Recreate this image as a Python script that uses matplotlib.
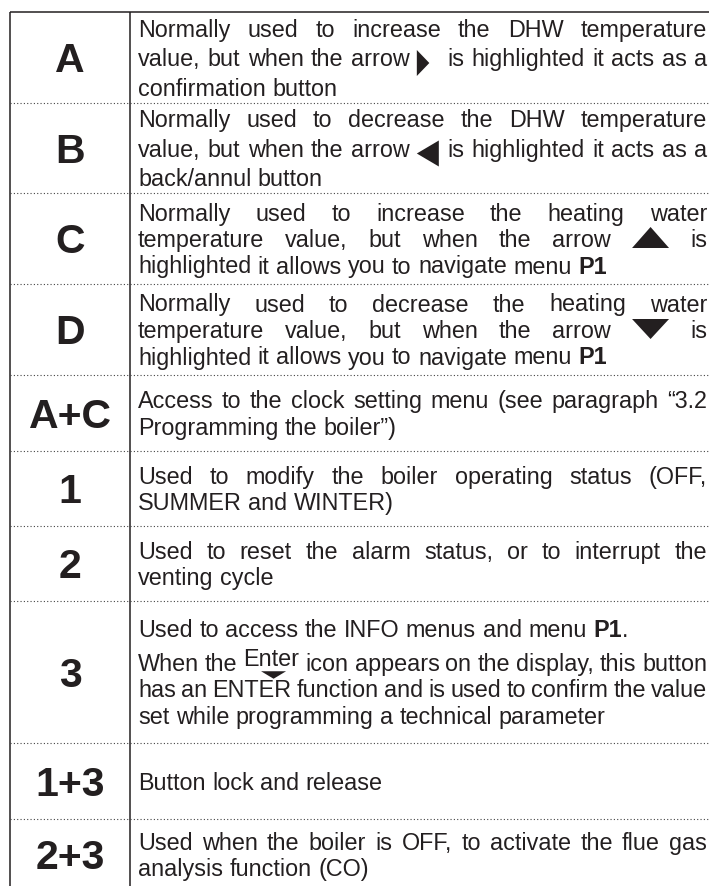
import re
import matplotlib
matplotlib.use('Agg')
import matplotlib.pyplot as plt
from matplotlib.patches import Polygon
from matplotlib.font_manager import FontProperties

plt.rcParams['font.family'] = ['Liberation Sans', 'DejaVu Sans']

# table content
keys = ['A', 'B', 'C', 'D', 'A+C', '1', '2', '3', '1+3', '2+3']
descriptions = [
    [["Normally used to increase the DHW temperature",
      "value, but when the arrow {right} is highlighted it acts as a",
      "confirmation button"]],
    [["Normally used to decrease the DHW temperature",
      "value, but when the arrow {left} is highlighted it acts as a",
      "back/annul button"]],
    [["Normally used to increase the heating water",
      "temperature value, but when the arrow {up} is",
      "highlighted it allows you to navigate menu **P1**"]],
    [["Normally used to decrease the heating water",
      "temperature value, but when the arrow {down} is",
      "highlighted it allows you to navigate menu **P1**"]],
    [["Access to the clock setting menu (see paragraph \u201c3.2",
      "Programming the boiler\u201d)"]],
    [["Used to modify the boiler operating status (OFF,",
      "SUMMER and WINTER)"]],
    [["Used to reset the alarm status, or to interrupt the",
      "venting cycle"]],
    [["Used to access the INFO menus and menu **P1**."],
     ["When the {enter} icon appears on the display, this button",
      "has an ENTER function and is used to confirm the value",
      "set while programming a technical parameter"]],
    [["Button lock and release"]],
    [["Used when the boiler is OFF, to activate the flue gas",
      "analysis function (CO)"]],
]
row_edges = [12, 103, 193, 284, 375, 451, 526, 601, 743, 819, 890]
line_gap = [29.5, 29.5, 26.5, 26.5, 26.5, 26.5, 26.5, 26.5, 26.5, 26.5]

INK = '#231f20'
BODY_PT = 16.8
HEAD_PT = 29.5
X_LEFT, X_DIV, X_RIGHT = 10, 130, 709
TXT_L, TXT_R = 138, 707

fig = plt.figure(figsize=(7.09, 8.86), dpi=100)
ax = fig.add_axes([0, 0, 1, 1])
ax.set_xlim(0, 709)
ax.set_ylim(886, 0)
ax.axis('off')
renderer = fig.canvas.get_renderer()

fp_norm = FontProperties(family=['Liberation Sans'], size=BODY_PT)
fp_bold = FontProperties(family=['Liberation Sans'], size=BODY_PT, weight='bold')


def text_w(s, bold=False):
    w, h, d = renderer.get_text_width_height_descent(s, fp_bold if bold else fp_norm, ismath=False)
    return w


space_w = text_w('a a') - text_w('aa')
icon_w = {'right': 23, 'left': 23, 'up': 37, 'down': 37}


def parse_word(word):
    m = re.fullmatch(r'\{(\w+)\}', word)
    if m:
        return [(m.group(1), None)]
    segs = []
    for part in re.split(r'(\*\*.+?\*\*)', word):
        if not part:
            continue
        if part.startswith('**'):
            segs.append(('bold', part[2:-2]))
        else:
            segs.append(('norm', part))
    return segs


def seg_w(kind, s):
    if kind in icon_w:
        return icon_w[kind]
    if kind == 'enter':
        return text_w('Enter')
    return text_w(s, kind == 'bold')


def draw_seg(kind, s, x, b):
    if kind == 'norm' or kind == 'bold':
        ax.text(x, b, s, fontproperties=fp_bold if kind == 'bold' else fp_norm,
                color=INK, ha='left', va='baseline')
    elif kind == 'enter':
        w = text_w('Enter')
        ax.text(x, b - 5, 'Enter', fontproperties=fp_norm, color=INK, ha='left', va='baseline')
        cx = x + w / 2 + 2
        ax.add_patch(Polygon([(cx - 12.5, b + 0.5), (cx + 12.5, b + 0.5), (cx, b + 8)],
                             closed=True, color=INK, lw=0))
    else:
        pts = {'right': [(x, b - 16), (x, b + 10), (x + 12.5, b - 3)],
               'left': [(x + 22, b - 16), (x + 22, b + 10), (x, b - 3)],
               'up': [(x, b + 1), (x + 37, b + 1), (x + 18.5, b - 20)],
               'down': [(x, b - 19), (x + 37, b - 19), (x + 18.5, b + 1)]}[kind]
        ax.add_patch(Polygon(pts, closed=True, color=INK, lw=0))


def draw_line(line, b, justify):
    words = [parse_word(w) for w in line.split(' ')]
    widths = [sum(seg_w(k, s) for k, s in wd) for wd in words]
    gap = space_w
    if justify and len(words) > 1:
        gap = (TXT_R - TXT_L - sum(widths)) / (len(words) - 1)
    x = TXT_L
    for wd, w in zip(words, widths):
        xx = x
        for k, s in wd:
            draw_seg(k, s, xx, b)
            xx += seg_w(k, s)
        x += w + gap


for i, key in enumerate(keys):
    top, bot = row_edges[i], row_edges[i + 1]
    center = (top + bot) / 2
    ax.text(70, center + 14.7, key, fontsize=HEAD_PT, fontweight='bold',
            color=INK, ha='center', va='baseline')
    # baselines of all lines in this row
    offs, flags, lines = [], [], []
    y = 0
    for p, para in enumerate(descriptions[i]):
        if p > 0:
            y += 7
        for j, ln in enumerate(para):
            offs.append(y)
            lines.append(ln)
            flags.append(j < len(para) - 1)
            y += line_gap[i]
    mid = (offs[0] + offs[-1]) / 2
    for off, ln, fl in zip(offs, lines, flags):
        draw_line(ln, center + 8.5 + off - mid, fl)

# grid lines
ax.hlines(row_edges[0], X_LEFT, X_RIGHT, color=INK, lw=1.1)
ax.vlines([X_LEFT, X_DIV], row_edges[0], 886, color=INK, lw=1.1)
ax.hlines(row_edges[1:-1], X_LEFT, 708, color='#444444', lw=0.8, linestyles=(0, (1, 2)))

fig.savefig('out.png', dpi=100)
